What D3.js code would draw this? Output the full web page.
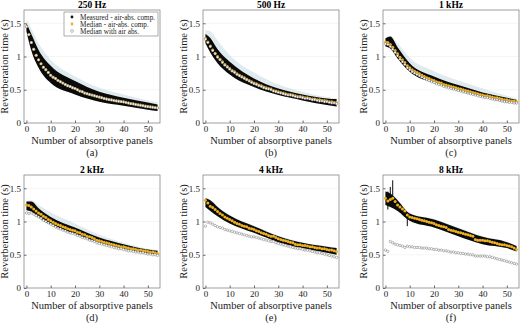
<!DOCTYPE html>
<html>
<head>
<meta charset="utf-8">
<script src="https://cdn.jsdelivr.net/npm/d3@7"></script>
<style>
  body { margin: 0; background: #fff; }
  text { font-family: "Liberation Serif", "Times New Roman", serif; }
</style>
</head>
<body>
<div id="chart"></div>
<script>
// Panel titles and sub-labels
const titles = ["250 Hz", "500 Hz", "1 kHz", "2 kHz", "4 kHz", "8 kHz"];
const letters = ["(a)", "(b)", "(c)", "(d)", "(e)", "(f)"];
const xTicks = [0, 10, 20, 30, 40, 50];
const yTicks = [0, 0.5, 1, 1.5];

// Median - air-abs. comp. (yellow), n = 0..54
const comp250 = [1.45,1.33,1.21,1.11,1.02,0.95,0.89,0.84,0.80,0.76,0.72,0.69,0.67,0.64,0.62,0.60,0.58,0.56,0.55,0.53,0.52,0.50,0.48,0.47,0.45,0.44,0.43,0.42,0.41,0.40,0.39,0.38,0.37,0.36,0.355,0.35,0.34,0.335,0.33,0.325,0.32,0.31,0.30,0.295,0.29,0.28,0.275,0.27,0.26,0.255,0.25,0.245,0.24,0.235,0.23];
const comp500 = [1.27,1.22,1.16,1.10,1.05,1.00,0.96,0.92,0.88,0.85,0.82,0.79,0.77,0.74,0.72,0.70,0.68,0.66,0.64,0.62,0.60,0.59,0.57,0.56,0.54,0.53,0.52,0.51,0.49,0.48,0.47,0.46,0.45,0.44,0.43,0.43,0.42,0.41,0.40,0.40,0.39,0.38,0.38,0.37,0.36,0.36,0.35,0.35,0.34,0.34,0.33,0.32,0.32,0.31,0.31];
const comp1k = [1.22,1.21,1.18,1.14,1.09,1.04,0.99,0.95,0.91,0.86,0.83,0.80,0.78,0.76,0.74,0.72,0.70,0.68,0.67,0.65,0.64,0.62,0.61,0.60,0.58,0.57,0.56,0.55,0.54,0.53,0.52,0.51,0.50,0.49,0.48,0.47,0.46,0.45,0.44,0.43,0.42,0.41,0.41,0.40,0.39,0.38,0.38,0.37,0.36,0.35,0.35,0.34,0.33,0.33,0.32];
const comp2k = [1.25,1.24,1.22,1.19,1.16,1.13,1.11,1.08,1.06,1.03,1.01,0.99,0.97,0.95,0.94,0.92,0.91,0.89,0.88,0.87,0.86,0.84,0.83,0.81,0.80,0.78,0.77,0.76,0.74,0.72,0.71,0.70,0.69,0.68,0.67,0.66,0.65,0.64,0.63,0.62,0.62,0.61,0.60,0.59,0.59,0.58,0.57,0.57,0.56,0.56,0.55,0.54,0.54,0.53,0.52];
const comp4k = [1.32,1.28,1.23,1.21,1.18,1.15,1.12,1.10,1.07,1.05,1.03,1.01,0.99,0.97,0.96,0.94,0.93,0.92,0.90,0.89,0.88,0.86,0.85,0.83,0.82,0.81,0.79,0.78,0.78,0.76,0.74,0.73,0.72,0.71,0.70,0.69,0.68,0.66,0.65,0.65,0.64,0.64,0.63,0.62,0.62,0.61,0.60,0.60,0.59,0.59,0.58,0.57,0.57,0.56,0.55];
const comp8k = [1.35,1.31,1.33,1.35,1.30,1.25,1.22,1.19,1.16,1.10,1.07,1.06,1.05,1.04,1.03,1.02,1.01,1.00,0.99,0.98,0.97,0.95,0.94,0.93,0.92,0.91,0.88,0.87,0.86,0.85,0.84,0.83,0.82,0.81,0.80,0.79,0.78,0.73,0.72,0.72,0.72,0.71,0.71,0.70,0.69,0.68,0.67,0.66,0.65,0.65,0.64,0.63,0.62,0.60,0.58];

// Median with air abs. (white circles), n = 0..54
const air250 = [1.45,1.33,1.21,1.11,1.02,0.95,0.89,0.84,0.80,0.76,0.72,0.69,0.67,0.64,0.62,0.60,0.58,0.56,0.55,0.53,0.52,0.50,0.48,0.47,0.45,0.44,0.43,0.42,0.41,0.40,0.39,0.38,0.37,0.36,0.35,0.345,0.34,0.33,0.325,0.32,0.315,0.31,0.30,0.29,0.285,0.28,0.27,0.265,0.26,0.25,0.245,0.24,0.235,0.23,0.225];
const air500 = [1.26,1.21,1.15,1.09,1.04,0.99,0.95,0.91,0.87,0.84,0.81,0.78,0.76,0.73,0.71,0.69,0.67,0.65,0.63,0.61,0.59,0.58,0.56,0.55,0.53,0.52,0.51,0.50,0.48,0.47,0.46,0.45,0.44,0.43,0.42,0.42,0.41,0.40,0.39,0.39,0.38,0.37,0.37,0.36,0.35,0.35,0.34,0.33,0.33,0.32,0.32,0.31,0.30,0.30,0.29];
const air1k = [1.19,1.18,1.15,1.11,1.06,1.01,0.96,0.92,0.88,0.83,0.80,0.77,0.75,0.73,0.71,0.69,0.67,0.65,0.64,0.62,0.61,0.59,0.58,0.57,0.55,0.54,0.53,0.52,0.51,0.50,0.49,0.48,0.47,0.46,0.45,0.44,0.43,0.42,0.41,0.40,0.39,0.38,0.38,0.37,0.36,0.35,0.35,0.34,0.33,0.32,0.32,0.31,0.31,0.30,0.30];
const air2k = [1.13,1.12,1.13,1.11,1.09,1.07,1.05,1.02,1.00,0.98,0.96,0.94,0.92,0.90,0.89,0.87,0.86,0.84,0.83,0.82,0.81,0.79,0.78,0.76,0.75,0.74,0.72,0.71,0.70,0.68,0.67,0.66,0.65,0.64,0.63,0.62,0.61,0.60,0.59,0.59,0.58,0.57,0.56,0.56,0.55,0.54,0.54,0.53,0.53,0.52,0.51,0.51,0.50,0.50,0.49];
const air4k = [0.93,0.99,0.98,0.96,0.94,0.92,0.91,0.90,0.88,0.87,0.86,0.85,0.84,0.83,0.82,0.81,0.80,0.79,0.78,0.77,0.77,0.76,0.75,0.74,0.73,0.72,0.71,0.70,0.70,0.68,0.67,0.66,0.65,0.64,0.63,0.62,0.61,0.60,0.59,0.59,0.58,0.57,0.57,0.56,0.55,0.54,0.53,0.53,0.52,0.51,0.50,0.49,0.48,0.47,0.46];
const air8k = [0.57,0.55,0.70,0.68,0.66,0.65,0.64,0.63,0.61,0.63,0.62,0.62,0.61,0.61,0.61,0.60,0.60,0.60,0.59,0.59,0.58,0.58,0.57,0.57,0.56,0.56,0.55,0.54,0.54,0.53,0.53,0.52,0.52,0.51,0.51,0.50,0.50,0.48,0.48,0.48,0.48,0.48,0.47,0.47,0.46,0.45,0.44,0.43,0.42,0.41,0.40,0.39,0.38,0.37,0.36];

// Measured scatter envelopes, sampled at these panel counts
const bandN = [0, 2, 5, 10, 20, 30, 40, 50, 54];
const hi250 = [1.50,1.34,1.10,0.86,0.63,0.47,0.38,0.31,0.28];
const lo250 = [1.38,1.09,0.83,0.60,0.43,0.32,0.26,0.20,0.18];
const fuzz250 = [1.56,1.42,1.20,0.95,0.70,0.53,0.43,0.34,0.31];
const hi500 = [1.34,1.28,1.11,0.92,0.67,0.52,0.43,0.37,0.36];
const lo500 = [1.20,1.06,0.90,0.73,0.54,0.42,0.34,0.27,0.25];
const fuzz500 = [1.40,1.38,1.24,1.02,0.76,0.58,0.47,0.39,0.37];
const hi1k = [1.27,1.30,1.14,0.90,0.70,0.57,0.46,0.38,0.35];
const lo1k = [1.15,1.12,0.97,0.77,0.60,0.48,0.39,0.31,0.29];
const fuzz1k = [1.28,1.31,1.20,0.98,0.78,0.64,0.52,0.41,0.37];
const hi2k = [1.30,1.30,1.20,1.07,0.91,0.76,0.66,0.58,0.56];
const lo2k = [1.17,1.15,1.06,0.95,0.81,0.68,0.59,0.52,0.50];
const fuzz2k = [1.31,1.32,1.25,1.14,0.97,0.80,0.68,0.59,0.57];
const hi4k = [1.35,1.32,1.22,1.09,0.93,0.78,0.68,0.62,0.60];
const lo4k = [1.22,1.16,1.08,0.97,0.83,0.69,0.60,0.53,0.50];
const fuzz4k = [1.36,1.33,1.23,1.10,0.94,0.79,0.69,0.63,0.61];
const hi8k = [1.45,1.42,1.32,1.12,1.03,0.90,0.77,0.69,0.63];
const lo8k = [1.25,1.22,1.16,1.01,0.91,0.78,0.66,0.60,0.55];
const fuzz8k = [1.46,1.43,1.33,1.13,1.04,0.91,0.78,0.70,0.64];

// Outlier streaks in the 8 kHz measurements: [n, low, high]
const spikes8k = [[1, 1.18, 1.45], [2, 1.25, 1.52], [3, 1.32, 1.62], [9, 0.93, 1.10]];

const legendLabels = ["Measured - air-abs. comp.", "Median - air-abs. comp.", "Median with air abs."];

const panels = [
  {comp: comp250, air: air250, hi: hi250, lo: lo250, fuzz: fuzz250, spikes: []},
  {comp: comp500, air: air500, hi: hi500, lo: lo500, fuzz: fuzz500, spikes: []},
  {comp: comp1k, air: air1k, hi: hi1k, lo: lo1k, fuzz: fuzz1k, spikes: []},
  {comp: comp2k, air: air2k, hi: hi2k, lo: lo2k, fuzz: fuzz2k, spikes: []},
  {comp: comp4k, air: air4k, hi: hi4k, lo: lo4k, fuzz: fuzz4k, spikes: []},
  {comp: comp8k, air: air8k, hi: hi8k, lo: lo8k, fuzz: fuzz8k, spikes: spikes8k}
];

// Chart sizes
const width = 520, height = 325;
const colLeft = [24, 203, 383],
    rowTop = [10, 175],
    pw = 136, ph = 113;

const svg = d3.select("#chart")
    .append("svg")
    .attr("width", width)
    .attr("height", height);

const yellow = "#EDB120";

panels.forEach((p, i) => {
    const left = colLeft[i % 3], top = rowTop[Math.floor(i / 3)];

    const x = d3.scaleLinear().domain([-1, 55]).range([left, left + pw]);
    const y = d3.scaleLinear().domain([0, 1.7]).range([top + ph, top]);

    const g = svg.append("g");

    // Light grid
    g.append("g")
        .selectAll("line")
        .data(yTicks.slice(1))
        .join("line")
        .attr("x1", left).attr("x2", left + pw)
        .attr("y1", d => y(d)).attr("y2", d => y(d))
        .attr("stroke", "#eeeeee")
        .attr("stroke-width", 0.6);

    // Measured scatter envelopes
    const pts = bandN.map((n, k) => ({n, lo: p.lo[k], hi: p.hi[k], fuzz: p.fuzz[k]}));
    g.append("path")
        .datum(pts)
        .attr("fill", "#b7d2da")
        .attr("opacity", 0.45)
        .attr("d", d3.area().curve(d3.curveMonotoneX)
            .x(d => x(d.n)).y0(d => y(d.lo)).y1(d => y(d.fuzz)));
    g.append("path")
        .datum(pts)
        .attr("fill", "#0a0a0a")
        .attr("d", d3.area().curve(d3.curveMonotoneX)
            .x(d => x(d.n)).y0(d => y(d.lo)).y1(d => y(d.hi)));

    g.selectAll(".spike")
        .data(p.spikes)
        .join("line")
        .attr("x1", d => x(d[0])).attr("x2", d => x(d[0]))
        .attr("y1", d => y(d[1])).attr("y2", d => y(d[2]))
        .attr("stroke", "#0a0a0a")
        .attr("stroke-width", 1);

    // Median - air-abs. comp.
    g.append("g")
        .selectAll("circle")
        .data(p.comp)
        .join("circle")
        .attr("cx", (d, n) => x(n))
        .attr("cy", d => y(d))
        .attr("r", 1.5)
        .attr("fill", yellow);

    // Median with air abs.
    g.append("g")
        .selectAll("circle")
        .data(p.air)
        .join("circle")
        .attr("cx", (d, n) => x(n))
        .attr("cy", d => y(d))
        .attr("r", 1.2)
        .attr("fill", "#fff")
        .attr("stroke", "#555")
        .attr("stroke-width", 0.4);

    // Axes, ticks inside like matlab
    g.append("g")
        .attr("transform", `translate(0,${top + ph})`)
        .call(d3.axisBottom(x).tickValues(xTicks).tickSize(-2.5).tickPadding(3).tickSizeOuter(0))
        .call(a => a.select(".domain").remove())
        .call(a => a.selectAll("line").attr("stroke", "#666"))
        .call(a => a.selectAll("text").attr("font-size", 9).attr("fill", "#222")
            .attr("font-family", "Liberation Serif"));

    g.append("g")
        .attr("transform", `translate(${left},0)`)
        .call(d3.axisLeft(y).tickValues(yTicks).tickSize(-2.5).tickPadding(3)
            .tickFormat(d3.format("")))
        .call(a => a.select(".domain").remove())
        .call(a => a.selectAll("line").attr("stroke", "#666"))
        .call(a => a.selectAll("text").attr("font-size", 9).attr("fill", "#222")
            .attr("font-family", "Liberation Serif"));

    // Box
    g.append("rect")
        .attr("x", left).attr("y", top)
        .attr("width", pw).attr("height", ph)
        .attr("fill", "none")
        .attr("stroke", "#777")
        .attr("stroke-width", 0.7);

    // Title
    g.append("text")
        .attr("x", left + pw / 2)
        .attr("y", top - 2)
        .attr("text-anchor", "middle")
        .attr("font-weight", 700)
        .attr("font-size", 9.5)
        .text(titles[i]);

    // x-axis label
    g.append("text")
        .attr("x", left + pw / 2)
        .attr("y", top + ph + 21)
        .attr("text-anchor", "middle")
        .attr("font-size", 10.5)
        .attr("fill", "#222")
        .text("Number of absorptive panels");

    g.append("text")
        .attr("x", left + pw / 2)
        .attr("y", top + ph + 33)
        .attr("text-anchor", "middle")
        .attr("font-size", 10.5)
        .attr("fill", "#222")
        .text(letters[i]);

    // y-axis label
    g.append("text")
        .attr("transform", `translate(${left - 16},${top + ph / 2}) rotate(-90)`)
        .attr("text-anchor", "middle")
        .attr("font-size", 10.5)
        .attr("fill", "#222")
        .text("Reverberation time (s)");
});

// Legend in the first panel
const lg = svg.append("g");
lg.append("rect")
    .attr("x", 64).attr("y", 12)
    .attr("width", 94).attr("height", 24)
    .attr("fill", "#fff")
    .attr("stroke", "#777")
    .attr("stroke-width", 0.6);

const legendMarks = [
    {fill: "#111", stroke: "none"},
    {fill: yellow, stroke: "none"},
    {fill: "#fff", stroke: "#555"}
];
legendLabels.forEach((label, k) => {
    lg.append("circle")
        .attr("cx", 72).attr("cy", 17 + k * 7)
        .attr("r", 1.4)
        .attr("fill", legendMarks[k].fill)
        .attr("stroke", legendMarks[k].stroke)
        .attr("stroke-width", 0.4);
    lg.append("text")
        .attr("x", 80).attr("y", 19.5 + k * 7)
        .attr("font-size", 7.2)
        .attr("fill", "#222")
        .text(label);
});
</script>
</body>
</html>
